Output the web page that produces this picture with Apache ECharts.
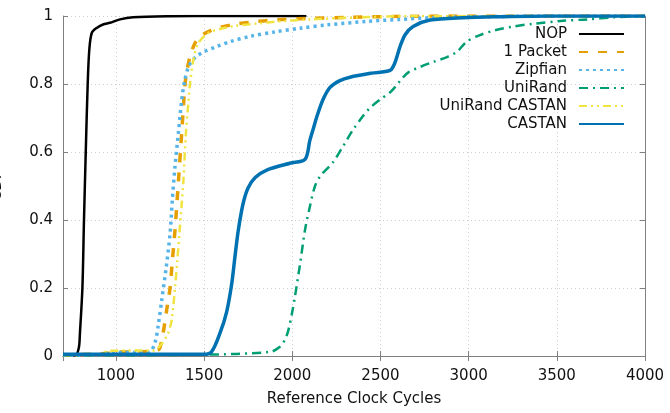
<!DOCTYPE html>
<html>
<head>
<meta charset="utf-8">
<script src="https://cdn.jsdelivr.net/npm/echarts@6/dist/echarts.min.js"></script>
<style>
  html, body { margin: 0; padding: 0; background: #fff; }
  #main { width: 670px; height: 413px; }
</style>
</head>
<body>
<div id="main"></div>
<script>
// CDF curves, [cycles, fraction]
var seriesNames = ['NOP', '1 Packet', 'Zipfian', 'UniRand', 'UniRand CASTAN', 'CASTAN'];

var nopData = [[700, 0.002], [772, 0.003], [790, 0.025], [796, 0.067], [810, 0.2], [819, 0.4],
    [829, 0.6], [840, 0.8], [849, 0.9], [863, 0.95], [891, 0.965], [927, 0.975], [966, 0.98],
    [1023, 0.99], [1097, 0.996], [1300, 0.999], [1600, 1], [2080, 1]];

var packetData = [[700, 0.003], [800, 0.004], [950, 0.008], [1000, 0.012], [1100, 0.012],
    [1200, 0.014], [1240, 0.018], [1250, 0.025], [1265, 0.06], [1278, 0.1], [1292, 0.15],
    [1307, 0.2], [1320, 0.28], [1335, 0.37], [1354, 0.51], [1373, 0.656], [1392, 0.8],
    [1405, 0.845], [1420, 0.88], [1448, 0.92], [1480, 0.94], [1515, 0.952], [1580, 0.965],
    [1666, 0.975], [1800, 0.984], [1912, 0.989], [2100, 0.993], [2327, 0.996], [2611, 0.999],
    [3000, 1], [4000, 1]];

var zipfData = [[700, 0.002], [900, 0.004], [1000, 0.01], [1150, 0.01], [1193, 0.012],
    [1222, 0.04], [1240, 0.09], [1260, 0.165], [1285, 0.26], [1307, 0.36], [1320, 0.46],
    [1335, 0.557], [1355, 0.66], [1373, 0.753], [1390, 0.81], [1411, 0.85], [1435, 0.87],
    [1458, 0.882], [1500, 0.895], [1571, 0.91], [1650, 0.925], [1760, 0.94], [1900, 0.953],
    [2044, 0.964], [2200, 0.974], [2422, 0.984], [2611, 0.99], [2800, 0.995], [3100, 0.998],
    [3400, 1], [4000, 1]];

var uniData = [[700, 0.002], [1500, 0.004], [1874, 0.012], [1930, 0.027], [1960, 0.05],
    [1978, 0.076], [2000, 0.13], [2015, 0.174], [2044, 0.27], [2072, 0.37], [2100, 0.44],
    [2129, 0.5], [2160, 0.53], [2231, 0.57], [2280, 0.61], [2309, 0.635], [2344, 0.665],
    [2400, 0.705], [2441, 0.73], [2500, 0.755], [2554, 0.775], [2590, 0.795], [2620, 0.815],
    [2660, 0.835], [2724, 0.85], [2800, 0.865], [2880, 0.88], [2934, 0.895], [2990, 0.925],
    [3064, 0.944], [3150, 0.958], [3252, 0.969], [3365, 0.977], [3535, 0.986], [3671, 0.99],
    [3819, 0.996], [4000, 1]];

var uniCastanData = [[700, 0.003], [900, 0.005], [960, 0.015], [1100, 0.016], [1210, 0.016],
    [1250, 0.03], [1290, 0.06], [1307, 0.085], [1318, 0.11], [1335, 0.2], [1348, 0.28],
    [1360, 0.36], [1372, 0.44], [1382, 0.51], [1397, 0.656], [1410, 0.74], [1420, 0.8],
    [1439, 0.87], [1467, 0.92], [1524, 0.95], [1600, 0.963], [1666, 0.97], [1800, 0.978],
    [1950, 0.985], [2100, 0.99], [2327, 0.995], [2700, 1], [4000, 1]];

var castanData = [[700, 0.005], [1500, 0.005], [1543, 0.013], [1590, 0.067], [1628, 0.13],
    [1656, 0.21], [1675, 0.292], [1694, 0.37], [1722, 0.45], [1750, 0.495], [1790, 0.525],
    [1855, 0.547], [1987, 0.567], [2072, 0.578], [2100, 0.635], [2120, 0.67], [2140, 0.705],
    [2175, 0.755], [2214, 0.79], [2270, 0.81], [2327, 0.82], [2450, 0.832], [2554, 0.84],
    [2580, 0.86], [2611, 0.91], [2640, 0.945], [2685, 0.969], [2781, 0.988], [2968, 0.995],
    [3200, 0.998], [3444, 1], [4000, 1]];

var font = 'DejaVu Sans';
var frameColor = '#808080';

var myChart = echarts.init(document.getElementById('main'), null, { renderer: 'canvas' });

function line(name, data, color, width, dash) {
    return {
        name: name,
        type: 'line',
        data: data,
        symbol: 'none',
        smooth: 0.3,
        lineStyle: { color: color, width: width, type: dash, cap: 'butt', join: 'round' },
        itemStyle: { color: color }
    };
}

var xCommon = {
    type: 'value', min: 700, max: 4000, splitNumber: 6,
    axisLine: { show: true, lineStyle: { color: frameColor, width: 1 } },
    axisTick: { show: true, inside: true, length: 5, lineStyle: { color: frameColor } }
};
var yCommon = {
    type: 'value', min: 0, max: 1, interval: 0.2,
    axisLine: { show: true, lineStyle: { color: frameColor, width: 1 } },
    axisTick: { show: true, inside: true, length: 5, lineStyle: { color: frameColor } }
};

var option = {
    animation: false,
    grid: { left: 63, right: 25, top: 16, bottom: 57, outerBoundsMode: 'none', containLabel: false },
    legend: {
        data: seriesNames,
        orient: 'vertical',
        align: 'right',
        right: 40,
        top: 20,
        itemWidth: 45,
        itemHeight: 14,
        itemGap: 0,
        itemStyle: { color: 'transparent', borderWidth: 0, opacity: 0 },
        textStyle: { fontFamily: font, fontSize: 15, color: '#111', lineHeight: 18, padding: [0, 7, 0, 0] }
    },
    xAxis: [
        Object.assign({}, xCommon, {
            position: 'bottom',
            name: 'Reference Clock Cycles',
            nameLocation: 'middle',
            nameGap: 36,
            nameTextStyle: { fontFamily: font, fontSize: 15, color: '#111' },
            axisLabel: {
                fontFamily: font, fontSize: 15, color: '#111', margin: 13, showMinLabel: false,
                formatter: function (v) { return String(v); }
            },
            splitLine: { show: true, lineStyle: { color: '#cfcfcf', type: [1, 3] } }
        }),
        Object.assign({}, xCommon, {
            position: 'top',
            axisLabel: { show: false },
            splitLine: { show: false }
        })
    ],
    yAxis: [
        Object.assign({}, yCommon, {
            position: 'left',
            name: 'CDF',
            nameLocation: 'middle',
            nameGap: 58,
            nameTextStyle: { fontFamily: font, fontSize: 15, color: '#111' },
            axisLabel: { fontFamily: font, fontSize: 15, color: '#111', margin: 10 },
            splitLine: { show: true, lineStyle: { color: '#cfcfcf', type: [1, 3] } }
        }),
        Object.assign({}, yCommon, {
            position: 'right',
            axisLabel: { show: false },
            splitLine: { show: false }
        })
    ],
    series: [
        line('NOP', nopData, '#000000', 2.5, 'solid'),
        line('1 Packet', packetData, '#e69f00', 3.5, [9, 10]),
        line('Zipfian', zipfData, '#56b4e9', 3.5, [3, 4]),
        line('UniRand', uniData, '#009e73', 2.5, [9, 5, 2, 5]),
        line('UniRand CASTAN', uniCastanData, '#f0e442', 2.5, [8, 4, 2, 4, 2, 4]),
        line('CASTAN', castanData, '#0072b2', 3.5, 'solid')
    ]
};

myChart.setOption(option);
</script>
</body>
</html>
